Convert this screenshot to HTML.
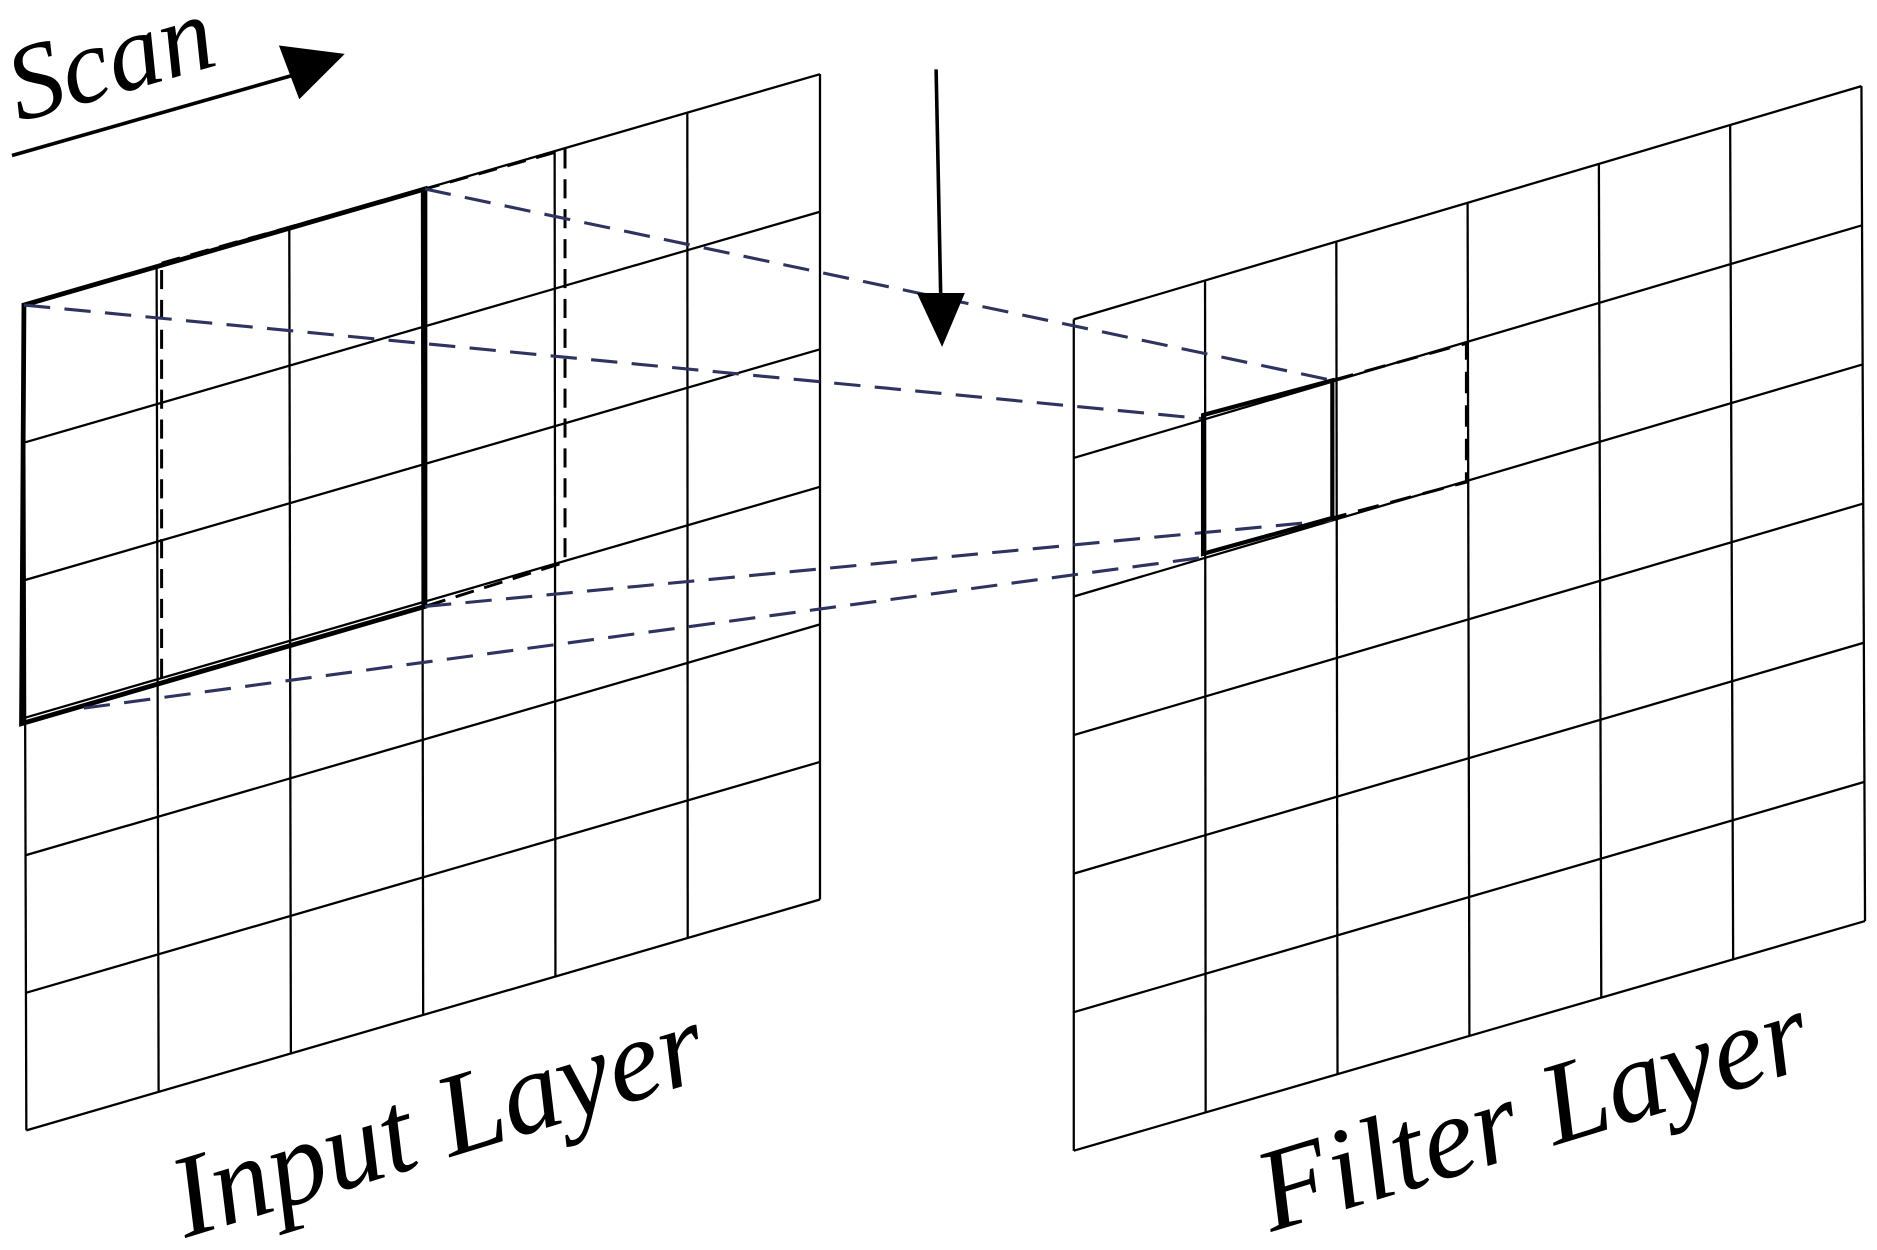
<!DOCTYPE html>
<html><head><meta charset="utf-8"><style>
html,body{margin:0;padding:0;background:#fff;}
svg{display:block;}
text{font-family:"Liberation Serif",serif;font-style:italic;fill:#000;}
</style></head><body>
<svg width="1877" height="1250" viewBox="0 0 1568 1045" preserveAspectRatio="none" xmlns="http://www.w3.org/2000/svg">
<g id="grids" stroke="#000" stroke-width="1.9" fill="none"></g>
<polygon points="20,255 355,158 355,507 18,605" fill="none" stroke="#000" stroke-width="4"/>
<polyline points="135,220 355,158 472,125 472,470 355,507 135,570 135,220" fill="none" stroke="#000" stroke-width="2.5" stroke-dasharray="16,9"/>
<g stroke="#2f3360" stroke-width="2.6" stroke-dasharray="22,12" fill="none">
<line x1="355" y1="158" x2="1113" y2="318"/>
<line x1="20" y1="255" x2="1005" y2="350"/>
<line x1="355" y1="507" x2="1113" y2="435"/>
<line x1="70" y1="592" x2="1005" y2="466"/>
</g>
<polygon points="1005,347 1113,318 1113,433 1005,463" fill="none" stroke="#000" stroke-width="3.5"/>
<polyline points="1113,318 1225,287 1225,403 1113,433" fill="none" stroke="#000" stroke-width="2.5" stroke-dasharray="18,10"/>
<line x1="782" y1="58" x2="786" y2="255" stroke="#000" stroke-width="3"/>
<polygon points="766,245 806,245 787,290" fill="#000"/>
<line x1="10" y1="130" x2="255" y2="60" stroke="#000" stroke-width="3"/>
<polygon points="233,38 288,45 250,83" fill="#000"/>
<text transform="translate(16,102) rotate(-16)" font-size="90">Scan</text>
<text transform="translate(155,1035) rotate(-17)" font-size="98">Input Layer</text>
<text transform="translate(1062,1030) rotate(-17)" font-size="98">Filter Layer</text>
<script>
(function(){
var g=document.getElementById('grids');var ns='http://www.w3.org/2000/svg';
function grid(TL,TR,BL,BR){
 function P(u,v){var x=(1-u)*(1-v)*TL[0]+u*(1-v)*TR[0]+(1-u)*v*BL[0]+u*v*BR[0];
 var y=(1-u)*(1-v)*TL[1]+u*(1-v)*TR[1]+(1-u)*v*BL[1]+u*v*BR[1];return [x,y];}
 for(var i=0;i<=6;i++){var a=P(i/6,0),b=P(i/6,1),c=P(0,i/6),d=P(1,i/6);
  [[a,b],[c,d]].forEach(function(s){var l=document.createElementNS(ns,'line');
  l.setAttribute('x1',s[0][0]);l.setAttribute('y1',s[0][1]);l.setAttribute('x2',s[1][0]);l.setAttribute('y2',s[1][1]);g.appendChild(l);});}
}
grid([20,255],[685,62],[22,945],[685,752]);
grid([897,267],[1555,72],[897,962],[1558,770]);
})();
</script>
</svg>
</body></html>
